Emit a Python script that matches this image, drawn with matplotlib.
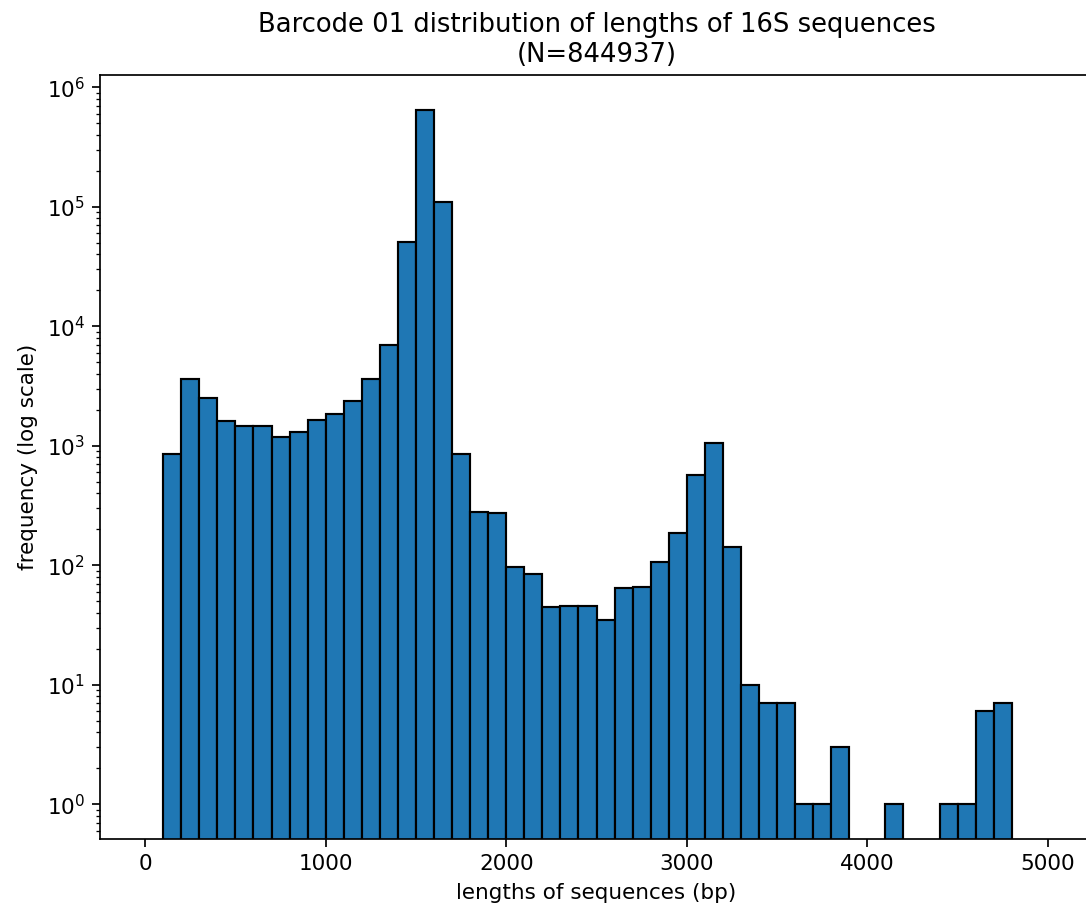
import numpy as np
import matplotlib
matplotlib.use("Agg")
import matplotlib.pyplot as plt

# read-length histogram, 100 bp bins from 0 to 5000
bin_edges = np.arange(0, 5100, 100)
counts = [
    0, 857, 3590, 2515, 1600, 1453, 1453, 1183, 1294, 1652,
    1857, 2390, 3590, 6966, 51100, 649942, 109500, 857, 280, 272,
    97, 85, 45, 46, 46, 35, 64, 66, 107, 185,
    570, 1054, 141, 10, 7, 7, 1, 1, 3, 0,
    0, 1, 0, 0, 1, 1, 6, 7, 0, 0,
]
n_total = 844937

DPI = 155
fig = plt.figure(figsize=(1086 / DPI, 907 / DPI), dpi=DPI)
ax = fig.add_axes([100 / 1086, 68 / 907, 993 / 1086, 764 / 907])

ax.hist(bin_edges[:-1], bins=bin_edges, weights=counts, edgecolor="black", log=True)
ax.set_xlim(-250, 5250)

ax.set_title(f"Barcode 01 distribution of lengths of 16S sequences\n(N={n_total})")
ax.set_xlabel("lengths of sequences (bp)")
ax.set_ylabel("frequency (log scale)")

fig.savefig("out.png", dpi=DPI)
